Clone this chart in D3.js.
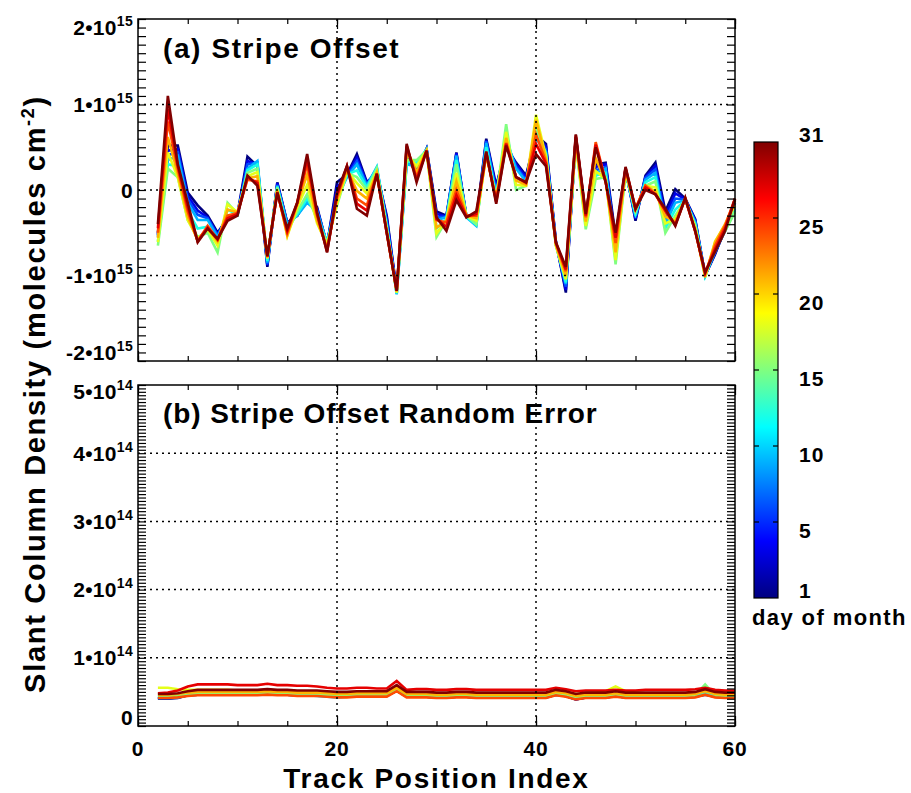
<!DOCTYPE html>
<html><head><meta charset="utf-8">
<script src="https://cdn.jsdelivr.net/npm/d3@7"></script>
<style>
body{margin:0;background:#fff}
svg text{font-family:"Liberation Sans",Arial,Helvetica,sans-serif;font-weight:bold;fill:#000}
</style>
</head><body>
<svg id="chart" width="911" height="793"></svg>
<script>
// ---------------- DATA ----------------
const trackPositions = [2,3,4,5,6,7,8,9,10,11,12,13,14,15,16,17,18,19,20,21,22,23,24,25,26,27,28,29,30,31,32,33,34,35,36,37,38,39,40,41,42,43,44,45,46,47,48,49,50,51,52,53,54,55,56,57,58,59,60];
const days = [1,4,7,10,13,16,19,22,25,28,31];

// Stripe offset, units of 1e15 molecules cm^-2
const offsetDay01 = [-.50,.52,.52,-.03,-.18,-.30,-.50,-.33,-.28,.39,.28,-.90,.09,-.38,-.30,-.07,-.20,-.65,.09,.18,.42,.09,.20,-.30,-1.18,.40,.19,.48,-.25,-.30,.44,-.30,-.35,.60,.05,.50,.32,.17,.64,.54,-.60,-1.20,.62,-.30,.30,.32,-.55,.25,-.36,.17,.32,-.25,.01,-.10,-.34,-1.00,-.75,-.45,-.12];
const offsetDay04 = [-.52,.46,.48,-.07,-.24,-.32,-.52,-.32,-.29,.34,.30,-.88,.08,-.39,-.30,-.10,-.22,-.64,.03,.17,.38,.08,.22,-.33,-1.19,.37,.22,.48,-.28,-.31,.43,-.31,-.37,.58,.02,.53,.30,.15,.63,.51,-.61,-1.17,.61,-.33,.27,.30,-.60,.24,-.34,.15,.28,-.30,-.04,-.11,-.35,-1.00,-.74,-.46,-.15];
const offsetDay07 = [-.53,.41,.44,-.11,-.29,-.33,-.53,-.31,-.29,.30,.32,-.87,.06,-.39,-.30,-.12,-.23,-.63,-.04,.16,.34,.06,.25,-.37,-1.21,.33,.25,.48,-.32,-.31,.41,-.31,-.40,.57,-.02,.57,.27,.12,.61,.48,-.61,-1.13,.61,-.35,.23,.27,-.65,.23,-.32,.14,.24,-.35,-.10,-.11,-.37,-1.00,-.73,-.47,-.19];
const offsetDay10 = [-.55,.35,.40,-.15,-.35,-.35,-.55,-.30,-.30,.25,.34,-.85,.05,-.40,-.30,-.15,-.25,-.62,-.10,.15,.30,.05,.27,-.40,-1.22,.30,.28,.48,-.35,-.32,.40,-.32,-.42,.55,-.05,.60,.25,.10,.60,.45,-.62,-1.10,.60,-.38,.20,.25,-.70,.22,-.30,.12,.20,-.40,-.15,-.12,-.38,-1.00,-.72,-.48,-.22];
const offsetDay13 = [-.60,.30,.28,-.25,-.45,-.43,-.64,-.23,-.29,.23,.30,-.83,.04,-.45,-.28,-.10,-.30,-.62,-.14,.18,.23,.03,.26,-.43,-1.21,.33,.32,.47,-.45,-.34,.35,-.31,-.41,.50,-.08,.68,.13,.08,.68,.43,-.64,-1.08,.58,-.42,.17,.20,-.79,.21,-.28,.09,.15,-.45,-.23,-.12,-.40,-1.01,-.69,-.48,-.24];
const offsetDay16 = [-.65,.25,.15,-.35,-.55,-.50,-.73,-.15,-.28,.20,.25,-.80,.03,-.50,-.25,-.05,-.35,-.62,-.18,.20,.15,.00,.25,-.45,-1.20,.35,.35,.46,-.55,-.35,.30,-.30,-.40,.45,-.10,.77,.00,.05,.75,.40,-.65,-1.05,.55,-.46,.13,.15,-.87,.20,-.25,.05,.10,-.50,-.30,-.12,-.42,-1.02,-.65,-.48,-.26];
const offsetDay19 = [-.61,.44,.15,-.35,-.57,-.46,-.65,-.17,-.26,.16,.21,-.80,.01,-.54,-.20,.06,-.39,-.64,-.16,.22,.08,-.04,.21,-.47,-1.20,.42,.28,.46,-.51,-.35,.20,-.30,-.36,.41,-.10,.68,.06,.05,.88,.39,-.65,-1.04,.57,-.42,.22,.13,-.82,.22,-.23,.05,.03,-.39,-.34,-.11,-.44,-1.02,-.60,-.41,-.18];
const offsetDay22 = [-.56,.62,.19,-.31,-.59,-.44,-.60,-.23,-.26,.14,.16,-.79,-.01,-.53,-.17,.18,-.36,-.67,-.12,.24,-.01,-.10,.20,-.49,-1.19,.47,.21,.46,-.44,-.36,.10,-.30,-.33,.41,-.11,.61,.11,.06,.82,.36,-.64,-1.00,.60,-.37,.37,.11,-.73,.23,-.22,.05,-.02,-.31,-.37,-.10,-.46,-1.00,-.61,-.40,-.13];
const offsetDay25 = [-.50,.80,.25,-.25,-.60,-.42,-.58,-.30,-.27,.12,.10,-.78,-.02,-.50,-.15,.30,-.30,-.70,-.08,.27,-.10,-.18,.19,-.50,-1.18,.50,.15,.46,-.35,-.38,.00,-.30,-.30,.42,-.12,.55,.15,.08,.65,.33,-.62,-.95,.62,-.32,.56,.10,-.62,.25,-.22,.05,-.05,-.25,-.40,-.10,-.48,-.98,-.65,-.42,-.10];
const offsetDay28 = [-.45,.95,.28,-.20,-.60,-.44,-.58,-.33,-.28,.15,.08,-.78,-.03,-.48,-.15,.36,-.28,-.72,-.06,.28,-.16,-.24,.19,-.50,-1.18,.52,.12,.46,-.34,-.43,-.06,-.31,-.28,.44,-.14,.54,.15,.09,.54,.31,-.62,-.93,.64,-.30,.53,.10,-.56,.26,-.22,.03,-.05,-.24,-.41,-.10,-.48,-.97,-.69,-.45,-.10];
const offsetDay31 = [-.40,1.10,.30,-.15,-.61,-.45,-.57,-.36,-.30,.17,.05,-.77,-.03,-.45,-.15,.42,-.26,-.73,-.03,.28,-.22,-.30,.19,-.50,-1.18,.54,.09,.46,-.32,-.48,-.12,-.32,-.25,.45,-.16,.52,.15,.09,.42,.28,-.61,-.90,.65,-.28,.50,.09,-.50,.27,-.22,.00,-.05,-.22,-.42,-.09,-.48,-.96,-.72,-.48,-.10];

// Stripe offset random error, units of 1e13 molecules cm^-2
const errorDay01 = [4.0,4.0,4.1,4.5,4.6,4.6,4.6,4.6,4.6,4.6,4.6,4.7,4.6,4.6,4.5,4.5,4.5,4.4,4.3,4.3,4.4,4.4,4.4,4.4,5.2,4.3,4.3,4.3,4.2,4.2,4.3,4.3,4.2,4.2,4.2,4.2,4.2,4.2,4.2,4.2,4.6,4.4,3.9,4.2,4.2,4.2,4.4,4.2,4.2,4.2,4.2,4.2,4.2,4.2,4.3,4.6,4.3,4.2,4.2];
const errorDay04 = [4.1,4.1,4.2,4.5,4.6,4.6,4.6,4.6,4.6,4.6,4.6,4.7,4.6,4.6,4.5,4.5,4.5,4.4,4.3,4.3,4.4,4.4,4.4,4.4,5.2,4.3,4.3,4.3,4.2,4.2,4.3,4.3,4.2,4.2,4.2,4.2,4.2,4.2,4.2,4.2,4.6,4.4,3.9,4.2,4.2,4.2,4.4,4.2,4.2,4.2,4.2,4.2,4.2,4.2,4.3,4.7,4.3,4.2,4.2];
const errorDay07 = [4.1,4.1,4.2,4.6,4.7,4.7,4.7,4.7,4.7,4.7,4.7,4.8,4.7,4.7,4.6,4.6,4.6,4.5,4.4,4.4,4.5,4.5,4.5,4.5,5.3,4.4,4.4,4.4,4.3,4.3,4.4,4.4,4.3,4.3,4.3,4.3,4.3,4.3,4.3,4.3,4.7,4.5,4.0,4.3,4.3,4.3,4.5,4.3,4.3,4.3,4.3,4.3,4.3,4.3,4.4,4.8,4.4,4.3,4.3];
const errorDay10 = [4.1,4.1,4.2,4.5,4.6,4.6,4.6,4.6,4.6,4.6,4.6,4.7,4.6,4.6,4.5,4.5,4.4,4.3,4.2,4.3,4.4,4.4,4.4,4.4,5.2,4.3,4.3,4.3,4.2,4.2,4.3,4.3,4.2,4.2,4.2,4.2,4.2,4.2,4.2,4.2,4.6,4.4,4.0,4.2,4.2,4.2,4.4,4.2,4.2,4.2,4.2,4.2,4.2,4.2,4.3,4.7,4.3,4.2,4.2];
const errorDay13 = [4.3,4.3,4.4,4.6,4.7,4.7,4.7,4.7,4.7,4.7,4.7,4.8,4.7,4.7,4.6,4.6,4.6,4.5,4.4,4.4,4.5,4.5,4.5,4.5,5.3,4.4,4.4,4.4,4.3,4.3,4.4,4.4,4.3,4.3,4.3,4.3,4.3,4.3,4.3,4.3,4.7,4.5,4.1,4.3,4.3,4.3,4.5,4.3,4.3,4.3,4.3,4.3,4.3,4.3,4.4,4.9,4.4,4.3,4.3];
const errorDay16 = [4.4,4.4,4.5,4.7,4.8,4.8,4.8,4.8,4.8,4.8,4.8,4.9,4.8,4.8,4.7,4.7,4.7,4.6,4.5,4.5,4.6,4.6,4.6,4.6,5.4,4.5,4.5,4.5,4.4,4.4,4.5,4.5,4.4,4.4,4.4,4.4,4.4,4.4,4.4,4.4,4.8,4.6,4.2,4.4,4.4,4.4,4.6,4.4,4.4,4.4,4.4,4.4,4.4,4.4,4.5,6.1,4.5,4.4,4.4];
const errorDay19 = [5.6,5.6,5.4,5.3,5.3,5.3,5.3,5.3,5.2,5.2,5.2,5.3,5.2,5.2,5.1,5.1,5.1,5.0,4.9,4.9,5.0,5.0,5.0,5.0,5.8,4.9,4.9,4.9,4.8,4.8,4.9,4.9,4.8,4.8,4.8,4.8,4.8,4.8,4.8,4.8,5.1,5.0,4.7,4.8,4.9,5.1,5.8,5.1,4.9,4.8,4.8,4.8,4.8,4.8,4.9,5.4,5.0,4.9,4.9];
const errorDay22 = [4.6,4.6,4.7,4.9,5.0,5.0,5.0,5.0,5.0,5.0,5.0,5.1,5.0,5.0,4.9,4.9,4.9,4.8,4.7,4.7,4.8,4.8,4.8,4.8,5.6,4.7,4.7,4.7,4.6,4.6,4.7,4.7,4.6,4.6,4.6,4.6,4.6,4.6,4.6,4.6,5.0,4.8,4.4,4.6,4.6,4.6,4.8,4.6,4.6,4.6,4.6,4.6,4.6,4.6,4.7,5.1,4.7,4.6,4.6];
const errorDay25 = [4.1,4.1,4.2,4.4,4.5,4.5,4.5,4.5,4.5,4.5,4.5,4.6,4.5,4.5,4.4,4.4,4.4,4.3,4.2,4.2,4.3,4.3,4.3,4.3,5.1,4.2,4.2,4.2,4.1,4.1,4.2,4.2,4.1,4.1,4.1,4.1,4.1,4.1,4.1,4.1,4.5,4.3,3.9,4.1,4.1,4.1,4.3,4.1,4.1,4.1,4.1,4.1,4.1,4.1,4.2,4.6,4.2,4.1,4.1];
const errorDay28 = [4.8,4.9,5.2,5.8,6.1,6.1,6.1,6.1,6.0,6.0,6.0,6.2,6.0,6.0,5.9,5.9,5.8,5.6,5.5,5.5,5.6,5.6,5.5,5.5,6.6,5.3,5.4,5.4,5.3,5.3,5.4,5.4,5.3,5.3,5.3,5.3,5.3,5.3,5.3,5.3,5.6,5.4,5.1,5.2,5.2,5.2,5.3,5.2,5.2,5.3,5.3,5.3,5.3,5.3,5.4,5.6,5.3,5.2,5.2];
const errorDay31 = [4.7,4.7,4.8,5.1,5.3,5.3,5.3,5.3,5.3,5.3,5.3,5.4,5.3,5.3,5.2,5.2,5.2,5.1,5.0,5.0,5.1,5.1,5.1,5.1,6.0,5.0,5.0,5.0,4.9,4.9,5.0,5.0,4.9,4.9,4.9,4.9,4.9,4.9,4.9,4.9,5.3,5.1,4.7,4.9,4.9,4.9,5.1,4.9,4.9,4.9,4.9,4.9,4.9,4.9,5.0,5.4,5.0,4.9,4.9];

const offsetSeries = [offsetDay01,offsetDay04,offsetDay07,offsetDay10,offsetDay13,offsetDay16,offsetDay19,offsetDay22,offsetDay25,offsetDay28,offsetDay31];
const errorSeries  = [errorDay01,errorDay04,errorDay07,errorDay10,errorDay13,errorDay16,errorDay19,errorDay22,errorDay25,errorDay28,errorDay31];

// tick values
const xMajorTicks = [0,20,40,60];
const xMinorTicks = [0,5,10,15,20,25,30,35,40,45,50,55,60];
const offsetTicks = [-2,-1,0,1,2];          // x 1e15
const errorTicks = [0,10,20,30,40,50];      // x 1e13
const colorbarTicks = [5,10,15,20,25];
const colorbarLabels = [1,5,10,15,20,25,31];

[...offsetSeries, ...errorSeries].forEach((s,k)=>{ if(s.length!==trackPositions.length) throw new Error("series "+k+" length "+s.length); });

// ---------------- LAYOUT ----------------
const svg = d3.select("#chart");
const X0 = 138, X1 = 735;
const panelTop = {y0: 19, y1: 361};
const panelBot = {y0: 385, y1: 726};

const x = d3.scaleLinear().domain([0,60]).range([X0,X1]);
const yTop = d3.scaleLinear().domain([-2,2]).range([panelTop.y1, panelTop.y0]);
const yBot = d3.scaleLinear().domain([0,50]).range([panelBot.y1, panelBot.y0]);

const jet = d3.scaleLinear()
  .domain([0,0.125,0.375,0.625,0.875,1])
  .range(["#000080","#0000ff","#00ffff","#ffff00","#ff0000","#800000"])
  .interpolate(d3.interpolateRgb);
const dayColor = d => jet((d-1)/30);

function drawPanel(yScale, p, series, gridVals, minorVals, labelVals, labelFn, endShift){
  const g = svg.append("g");
  const line = d3.line().x((d,i)=>x(trackPositions[i])).y(d=>yScale(d));
  series.forEach((s,k)=>{
    g.append("path").attr("d", line(s)).attr("fill","none")
      .attr("stroke", dayColor(days[k])).attr("stroke-width",2.6)
      .attr("stroke-linejoin","miter");
  });
  gridVals.forEach(v=>{
    g.append("line").attr("x1",X0).attr("x2",X1).attr("y1",yScale(v)).attr("y2",yScale(v))
      .attr("stroke","#000").attr("stroke-width",1.5).attr("stroke-dasharray","2,4");
  });
  [20,40].forEach(v=>{
    g.append("line").attr("x1",x(v)).attr("x2",x(v)).attr("y1",p.y0).attr("y2",p.y1)
      .attr("stroke","#000").attr("stroke-width",1.5).attr("stroke-dasharray","2,4");
  });
  g.append("g").attr("transform",`translate(${X0},0)`)
    .call(d3.axisLeft(yScale).tickValues(minorVals).tickSize(-8).tickFormat(""))
    .call(a=>a.select(".domain").remove());
  g.append("g").attr("transform",`translate(${X1},0)`)
    .call(d3.axisRight(yScale).tickValues(minorVals).tickSize(-8).tickFormat(""))
    .call(a=>a.select(".domain").remove());
  g.append("g").attr("transform",`translate(0,${p.y1})`)
    .call(d3.axisBottom(x).tickValues(xMinorTicks).tickSize(-5).tickFormat(""))
    .call(a=>a.select(".domain").remove());
  g.append("g").attr("transform",`translate(0,${p.y1})`)
    .call(d3.axisBottom(x).tickValues(xMajorTicks).tickSize(-10).tickFormat(""))
    .call(a=>a.select(".domain").remove());
  g.append("g").attr("transform",`translate(0,${p.y0})`)
    .call(d3.axisTop(x).tickValues(xMinorTicks).tickSize(-5).tickFormat(""))
    .call(a=>a.select(".domain").remove());
  g.append("g").attr("transform",`translate(0,${p.y0})`)
    .call(d3.axisTop(x).tickValues(xMajorTicks).tickSize(-10).tickFormat(""))
    .call(a=>a.select(".domain").remove());
  g.selectAll(".tick line").attr("stroke","#000").attr("stroke-width",1.2);
  g.append("rect").attr("x",X0).attr("y",p.y0).attr("width",X1-X0).attr("height",p.y1-p.y0)
    .attr("fill","none").attr("stroke","#000").attr("stroke-width",1.5);
  const dmin = d3.min(labelVals), dmax = d3.max(labelVals);
  labelVals.forEach(v=>{
    let cy = yScale(v);
    if(v===dmax) cy += endShift[0];
    if(v===dmin) cy += endShift[1];
    const t = svg.append("text").attr("x",133).attr("y",cy+7.5)
      .attr("text-anchor","end").style("font-size","21px").style("letter-spacing","0.3px");
    const lab = labelFn(v);
    t.append("tspan").text(lab.m);
    if(lab.e){
      t.append("tspan").text(lab.e).attr("dy",-9).style("font-size","14px");
    }
  });
}

drawPanel(yTop, panelTop, offsetSeries, [-1,0,1], d3.range(-20,21).map(k=>k/10), offsetTicks,
  v => v===0 ? {m:"0"} : {m:`${v}\u202210`, e:"15"}, [8,-9]);
drawPanel(yBot, panelBot, errorSeries, [10,20,30,40], d3.range(0,101).map(k=>k/2), errorTicks,
  v => v===0 ? {m:"0"} : {m:`${v/10}\u202210`, e:"14"}, [6,-9]);

xMajorTicks.forEach(v=>{
  svg.append("text").attr("x",x(v)).attr("y",756).attr("text-anchor","middle")
    .style("font-size","21px").style("letter-spacing","0.8px").text(v);
});
svg.append("text").attr("x",(X0+X1)/2).attr("y",788).attr("text-anchor","middle")
  .style("font-size","28px").style("letter-spacing","1.7px").text("Track Position Index");
const yt = svg.append("text").attr("transform","translate(45,394) rotate(-90)")
  .attr("text-anchor","middle").style("font-size","29px").style("letter-spacing","1.7px");
yt.append("tspan").text("Slant Column Density (molecules cm");
yt.append("tspan").text("-2").attr("dy",-11).style("font-size","18px");
yt.append("tspan").text(")").attr("dy",11);

svg.append("text").attr("x",163).attr("y",58).style("font-size","28px").style("letter-spacing","1.6px").text("(a) Stripe Offset");
svg.append("text").attr("x",163).attr("y",423).style("font-size","28px").style("letter-spacing","0.9px").text("(b) Stripe Offset Random Error");

// ---------------- COLORBAR ----------------
const cb = {x0:754, x1:778};
const cbScale = d3.scaleLinear().domain([0,30]).range([598,142]);
const defs = svg.append("defs");
const grad = defs.append("linearGradient").attr("id","jetgrad")
  .attr("x1",0).attr("y1",1).attr("x2",0).attr("y2",0);
[0,0.125,0.375,0.625,0.875,1].forEach(t=>{
  grad.append("stop").attr("offset",t).attr("stop-color",jet(t));
});
svg.append("rect").attr("x",cb.x0).attr("y",cbScale(30)).attr("width",cb.x1-cb.x0)
  .attr("height",cbScale(0)-cbScale(30)).attr("fill","url(#jetgrad)")
  .attr("stroke","#000").attr("stroke-width",1.2);
colorbarTicks.forEach(v=>{
  svg.append("line").attr("x1",cb.x0).attr("x2",cb.x0+5).attr("y1",cbScale(v)).attr("y2",cbScale(v)).attr("stroke","#000").attr("stroke-width",1.2);
  svg.append("line").attr("x1",cb.x1-5).attr("x2",cb.x1).attr("y1",cbScale(v)).attr("y2",cbScale(v)).attr("stroke","#000").attr("stroke-width",1.2);
});
colorbarLabels.forEach(v=>{
  svg.append("text").attr("x",799).attr("y",cbScale(v)+8+7.5).style("font-size","21px").style("letter-spacing","1px").text(v);
});
svg.append("text").attr("x",752).attr("y",625).style("font-size","22px").style("letter-spacing","1.4px").text("day of month");
</script>
</body></html>
